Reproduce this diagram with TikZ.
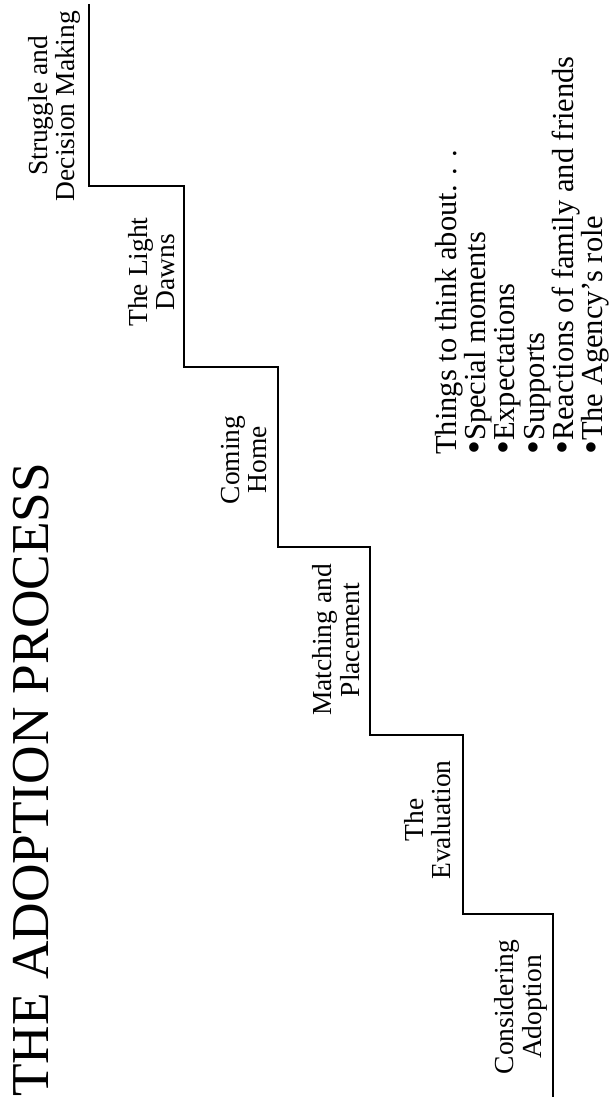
\documentclass[tikz,border=0pt]{standalone}
\usepackage{fontspec}
\setmainfont{Liberation Serif}
\newcommand{\bigdot}{\raisebox{-0.06em}{\scalebox{1.3}{\textbullet}}}
\begin{document}
\begin{tikzpicture}[x=1pt,y=1pt,
  stair/.style={line width=1.8pt, line join=miter},
  steplabel/.style={rotate=90, anchor=south, align=center, inner sep=0pt,
    font=\fontsize{27.5}{27.5}\selectfont},
  listbox/.style={rotate=90, anchor=south west, align=left, inner sep=0pt,
    font=\fontsize{30.5}{29.3}\selectfont},
  titlebox/.style={rotate=90, anchor=base west, inner sep=0pt,
    font=\fontsize{53.3}{56}\selectfont}]
\useasboundingbox (0,0) rectangle (614,1111);
% staircase
\coordinate (s0) at (89,1107);
\coordinate (s1) at (89,925);
\coordinate (s2) at (184,925);
\coordinate (s3) at (184,744);
\coordinate (s4) at (278,744);
\coordinate (s5) at (278,564);
\coordinate (s6) at (370,564);
\coordinate (s7) at (370,376);
\coordinate (s8) at (463,376);
\coordinate (s9) at (463,197);
\coordinate (s10) at (553,197);
\coordinate (s11) at (553,14);
\draw[stair] (s0) -- (s1) -- (s2) -- (s3) -- (s4) -- (s5) -- (s6) -- (s7) -- (s8) -- (s9) -- (s10) -- (s11);
% title
\node[titlebox] (title) at (48,14) {THE ADOPTION PROCESS};
% step labels
\node[steplabel] (l1) at (83.25,1005) {Struggle and\\Decision Making\strut};
\node[steplabel] (l2) at (183.25,839) {The Light\\Dawns\strut};
\node[steplabel] (l3) at (275.25,651) {Coming\\Home\strut};
\node[steplabel] (l4) at (367.75,471) {Matching and\\Placement\strut};
\node[steplabel] (l5) at (459.25,291) {The\\Evaluation\strut};
\node[steplabel] (l6) at (549.75,104) {Considering\\Adoption\strut};
% list
\node[listbox] (list) at (611.8,656) {Things to think about. . .\\
\bigdot Special moments\\
\bigdot Expectations\\
\bigdot Supports\\
\bigdot Reactions of family and friends\\
\bigdot The Agency’s role\strut};
\end{tikzpicture}
\end{document}
